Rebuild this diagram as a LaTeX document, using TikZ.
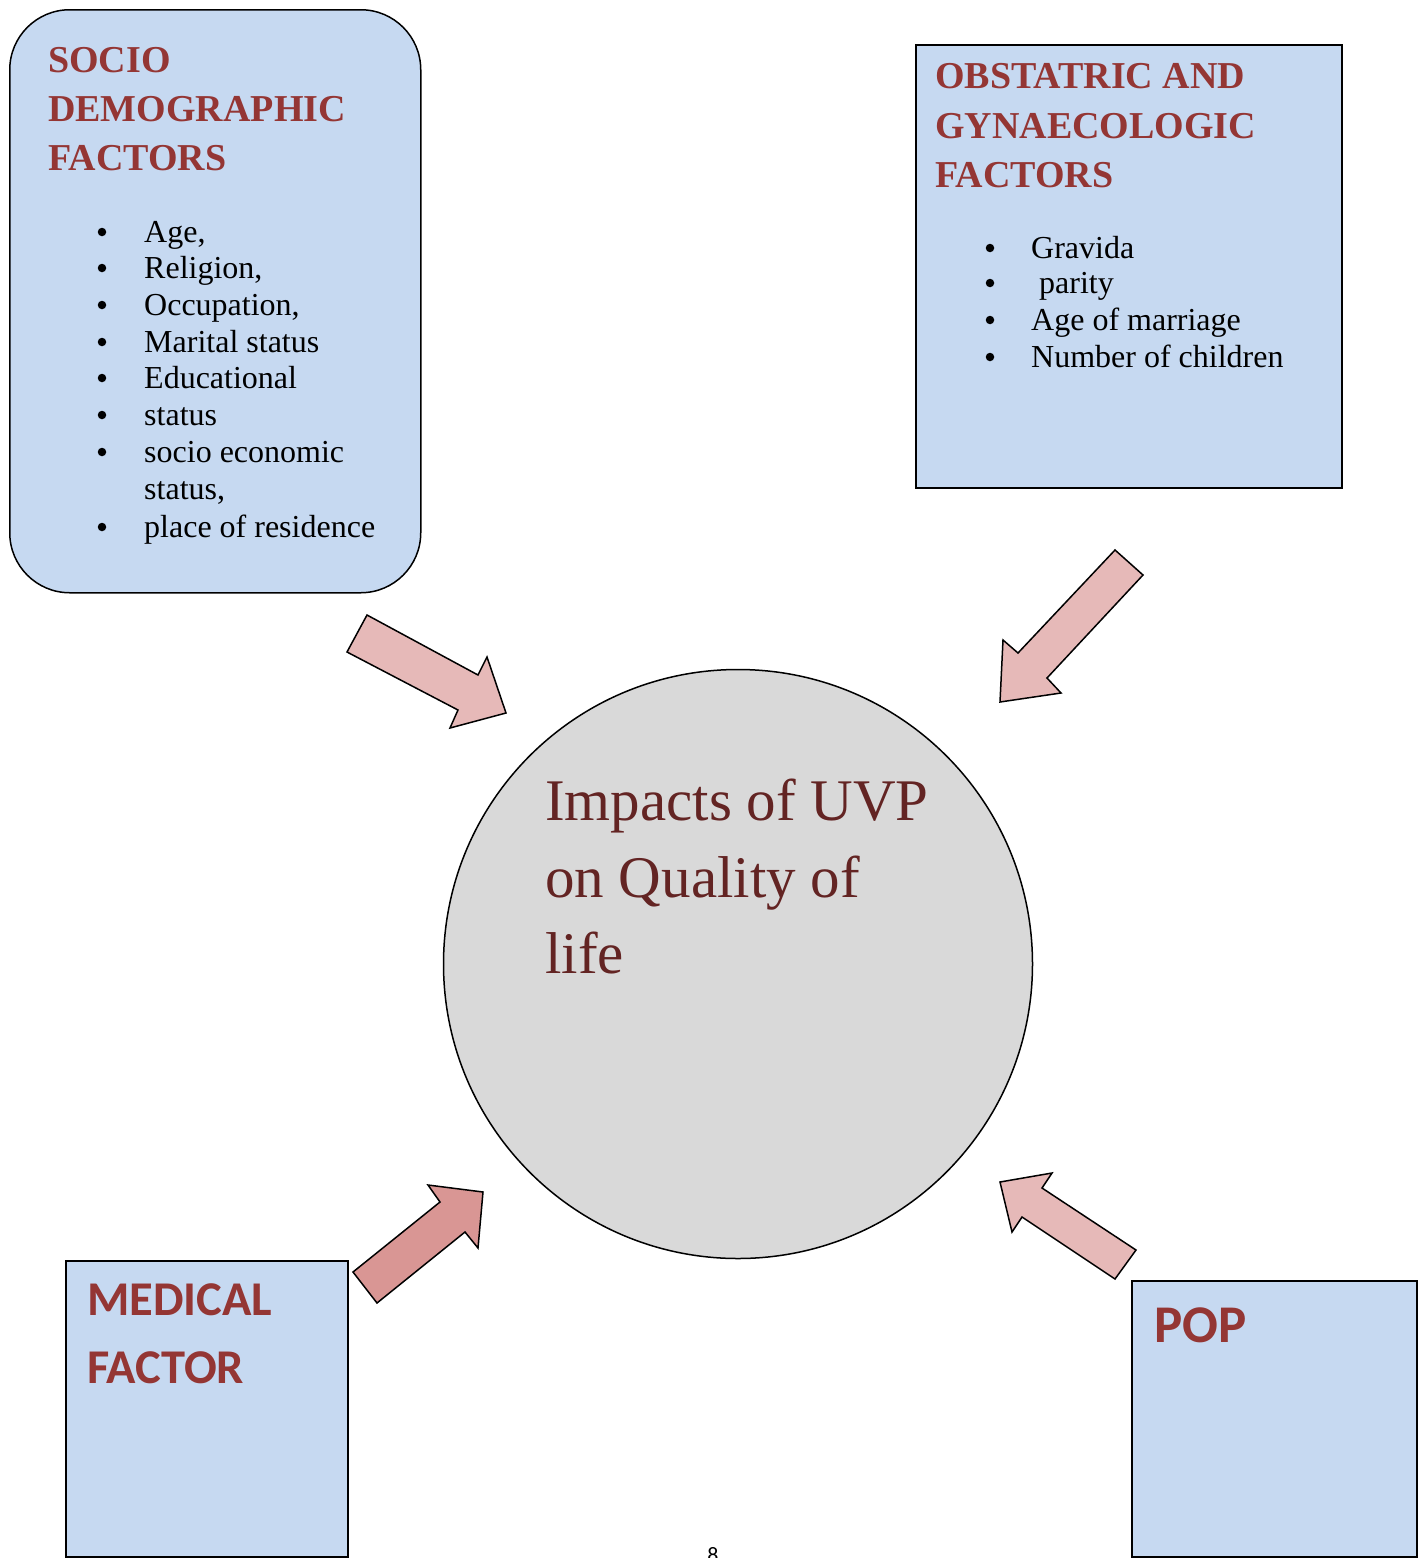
\documentclass[tikz,border=0pt]{standalone}
\usepackage{fontspec}
\setmainfont{Liberation Serif}
\newfontfamily\calibfont{Carlito}
\definecolor{boxblue}{HTML}{C6D9F1}
\definecolor{headred}{HTML}{943634}
\definecolor{circred}{HTML}{632423}
\definecolor{circgray}{HTML}{D9D9D9}
\definecolor{arrpink}{HTML}{E6B9B8}
\definecolor{arrrose}{HTML}{D99694}
\begin{document}
\begin{tikzpicture}[x=1pt,y=-1pt,
  box/.style={draw=black, line width=1.5pt, fill=boxblue, anchor=north west, inner sep=0pt},
  head/.style={text=headred, font=\fontsize{38}{44}\selectfont\bfseries, anchor=base west, inner sep=0pt},
  item/.style={text=black, font=\fontsize{32}{36}\selectfont, anchor=base west, inner sep=0pt},
  bul/.style={circle, fill=black, inner sep=0pt, minimum size=8.5pt},
  circtext/.style={text=circred, font=\fontsize{59}{70}\selectfont, anchor=base west, inner sep=0pt},
  sanshead/.style={text=headred, font=\calibfont\fontsize{48.5}{56}\selectfont\bfseries, anchor=base west, inner sep=0pt},
  blockarrow/.style={draw=black, line width=1.5pt, line join=miter, fill=arrpink}
]
\useasboundingbox (0,0) rectangle (1426,1558);

% boxes
\node[box, rounded corners=60pt, minimum width=411pt, minimum height=583pt] (socio) at (9,9) {};
\node[box, minimum width=426pt, minimum height=443pt] (obst) at (915,44) {};
\node[box, minimum width=282pt, minimum height=296pt] (medical) at (65,1260) {};
\node[box, minimum width=285pt, minimum height=276pt] (pop) at (1131,1280) {};

% centre circle
\node[circle, draw=black, line width=1.5pt, fill=circgray, minimum size=589pt, inner sep=0pt] (impact) at (738,964) {};

% socio-demographic text
\node[head] (s1) at (48,72) {SOCIO};
\node[head] (s2) at (48,121) {DEMOGRAPHIC};
\node[head] (s3) at (48,170) {FACTORS};
\foreach \yy [count=\i] in {242,278,315,352,388,425,462,537}{
  \node[bul] (sb\i) at (102,\yy-10) {};
}
\node[item] (si1) at (144,242) {Age,};
\node[item] (si2) at (144,278) {Religion,};
\node[item] (si3) at (144,315) {Occupation,};
\node[item] (si4) at (144,352) {Marital status};
\node[item] (si5) at (144,388) {Educational};
\node[item] (si6) at (144,425) {status};
\node[item] (si7) at (144,462) {socio economic};
\node[item] (si8) at (144,499) {status,};
\node[item] (si9) at (144,537) {place of residence};

% obstetric text
\node[head] (o1) at (935,88) {OBSTATRIC AND};
\node[head] (o2) at (935,138) {GYNAECOLOGIC};
\node[head] (o3) at (935,187) {FACTORS};
\foreach \yy [count=\i] in {258,293,330,367}{
  \node[bul] (ob\i) at (990,\yy-10) {};
}
\node[item] (oi1) at (1031,258) {Gravida};
\node[item] (oi2) at (1039,293) {parity};
\node[item] (oi3) at (1031,330) {Age of marriage};
\node[item] (oi4) at (1031,367) {Number of children};

% circle text
\node[circtext] (c1) at (545,820) {Impacts of UVP};
\node[circtext] (c2) at (545,897) {on Quality of};
\node[circtext] (c3) at (545,973) {life};

% medical / pop
\node[sanshead] (m1) at (87,1315) {MEDICAL};
\node[sanshead] (m2) at (87,1383) {FACTOR};
\node[sanshead, font=\calibfont\fontsize{53}{60}\selectfont\bfseries] (p1) at (1154,1342) {POP};

% page number (cut off at the page edge, as in the reference)
\node[font=\calibfont\fontsize{22}{26}\selectfont, anchor=base, inner sep=0pt] (pagenum) at (713,1562) {8};

% block arrows
\draw[blockarrow] (367,615) -- (478,675) -- (487,657) -- (506,713) -- (450,728) -- (458,710) -- (347,652) -- cycle;
\draw[blockarrow] (1115,550) -- (1143,575) -- (1047,678) -- (1061,693) -- (1000,702) -- (1003,640) -- (1018,653) -- cycle;
\draw[blockarrow, fill=arrrose] (353,1272) -- (440,1202) -- (428,1185) -- (483,1192) -- (478,1248) -- (465,1232) -- (377,1303) -- cycle;
\draw[blockarrow] (1000,1182) -- (1052,1173) -- (1042,1188) -- (1136,1250) -- (1115,1279) -- (1022,1217) -- (1012,1232) -- cycle;
\end{tikzpicture}
\end{document}
